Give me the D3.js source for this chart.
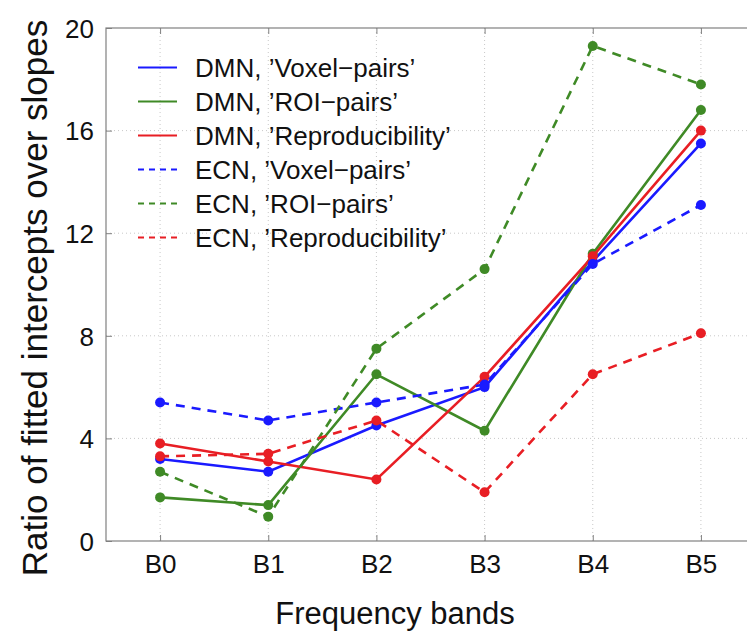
<!DOCTYPE html>
<html>
<head>
<meta charset="utf-8">
<script src="https://cdn.jsdelivr.net/npm/d3@7"></script>
<style>
  body { margin: 0; background: #fff; }
  svg { display: block; }
</style>
</head>
<body>
<div id="chart"></div>
<script>
var bands = ["B0", "B1", "B2", "B3", "B4", "B5"];
var yTicks = [0, 4, 8, 12, 16, 20];

// values
var dmnVoxel = [3.2, 2.7, 4.5, 6.0, 10.9, 15.5];
var dmnRoi   = [1.7, 1.4, 6.5, 4.3, 11.2, 16.8];
var dmnRepro = [3.8, 3.1, 2.4, 6.4, 11.1, 16.0];
var ecnVoxel = [5.4, 4.7, 5.4, 6.1, 10.8, 13.1];
var ecnRoi   = [2.7, 0.95, 7.5, 10.6, 19.3, 17.8];
var ecnRepro = [3.3, 3.4, 4.7, 1.9, 6.5, 8.1];

var seriesNames = ["DMN, \u2019Voxel\u2212pairs\u2019", "DMN, \u2019ROI\u2212pairs\u2019",
  "DMN, \u2019Reproducibility\u2019", "ECN, \u2019Voxel\u2212pairs\u2019",
  "ECN, \u2019ROI\u2212pairs\u2019", "ECN, \u2019Reproducibility\u2019"];
var seriesValues = [dmnVoxel, dmnRoi, dmnRepro, ecnVoxel, ecnRoi, ecnRepro];
var seriesColors = ["#1a1aff", "#3f8a26", "#e81e24", "#1a1aff", "#3f8a26", "#e81e24"];
var seriesDashed = [false, false, false, true, true, true];

var W = 747, H = 639;
var pLeft = 106, pRight = 755, pTop = 28, pBottom = 541;

var svg = d3.select("#chart").append("svg")
  .attr("width", W).attr("height", H)
  .style("font-family", "'Liberation Sans', Arial, Helvetica, sans-serif");

var x = d3.scalePoint().domain(bands).range([pLeft, pRight]).padding(0.5);
var y = d3.scaleLinear().domain([0, 20]).range([pBottom, pTop]);

/* grid */
svg.selectAll(".xgrid").data(bands).enter().append("line")
  .attr("x1", d => x(d)).attr("x2", d => x(d))
  .attr("y1", pTop).attr("y2", pBottom)
  .style("stroke", "#c8c8c8").style("stroke-width", 1)
  .style("stroke-dasharray", "1,3");
svg.selectAll(".ygrid").data(yTicks.slice(1, -1)).enter().append("line")
  .attr("x1", pLeft).attr("x2", pRight)
  .attr("y1", d => y(d)).attr("y2", d => y(d))
  .style("stroke", "#c8c8c8").style("stroke-width", 1)
  .style("stroke-dasharray", "1,3");

/* box */
svg.append("rect")
  .attr("x", pLeft).attr("y", pTop)
  .attr("width", pRight - pLeft).attr("height", pBottom - pTop)
  .style("fill", "none").style("stroke", "#808080").style("stroke-width", 1.2);

/* axes with inward ticks */
var xAxis = d3.axisBottom(x).tickSize(-6).tickPadding(14);
var gx = svg.append("g").attr("transform", "translate(0," + pBottom + ")").call(xAxis);
var xTop = d3.axisTop(x).tickSize(-6).tickFormat("");
var gxt = svg.append("g").attr("transform", "translate(0," + pTop + ")").call(xTop);
var yAxis = d3.axisLeft(y).tickValues(yTicks).tickSize(-6).tickPadding(12);
var gy = svg.append("g").attr("transform", "translate(" + pLeft + ",0)").call(yAxis);

[gx, gxt, gy].forEach(function (g) {
  g.select(".domain").remove();
  g.selectAll(".tick line").style("stroke", "#808080");
});
gx.selectAll("text").style("font-size", "26px").style("fill", "#111");
gy.selectAll("text").style("font-size", "26px").style("fill", "#111")
  .attr("dy", "0.36em");

/* axis titles */
svg.append("text")
  .attr("x", 395).attr("y", 624)
  .attr("text-anchor", "middle")
  .style("font-size", "31px").style("fill", "#111")
  .text("Frequency bands");

svg.append("text")
  .attr("transform", "translate(47,298) rotate(-90)")
  .attr("text-anchor", "middle")
  .style("font-size", "35px").style("fill", "#111")
  .text("Ratio of fitted intercepts over slopes");

/* lines and markers */
var line = d3.line().x((d, i) => x(bands[i])).y(d => y(d));

seriesValues.forEach(function (vals, k) {
  svg.append("path")
    .datum(vals)
    .attr("d", line)
    .style("fill", "none")
    .style("stroke", seriesColors[k])
    .style("stroke-width", 2.6)
    .style("stroke-dasharray", seriesDashed[k] ? "9,7" : null);
  svg.selectAll(".dot" + k).data(vals).enter().append("circle")
    .attr("cx", (d, i) => x(bands[i]))
    .attr("cy", d => y(d))
    .attr("r", 5)
    .style("fill", seriesColors[k]);
});

/* legend */
var lg = svg.append("g");
seriesNames.forEach(function (name, k) {
  var ly = 67.5 + k * 34;
  lg.append("line")
    .attr("x1", 138).attr("x2", 177)
    .attr("y1", ly).attr("y2", ly)
    .style("stroke", seriesColors[k]).style("stroke-width", 1.8)
    .style("stroke-dasharray", seriesDashed[k] ? "6,5" : null);
  lg.append("text")
    .attr("x", 195).attr("y", ly).attr("dy", "0.36em")
    .style("font-size", "26px").style("fill", "#111")
    .text(name);
});
</script>
</body>
</html>
